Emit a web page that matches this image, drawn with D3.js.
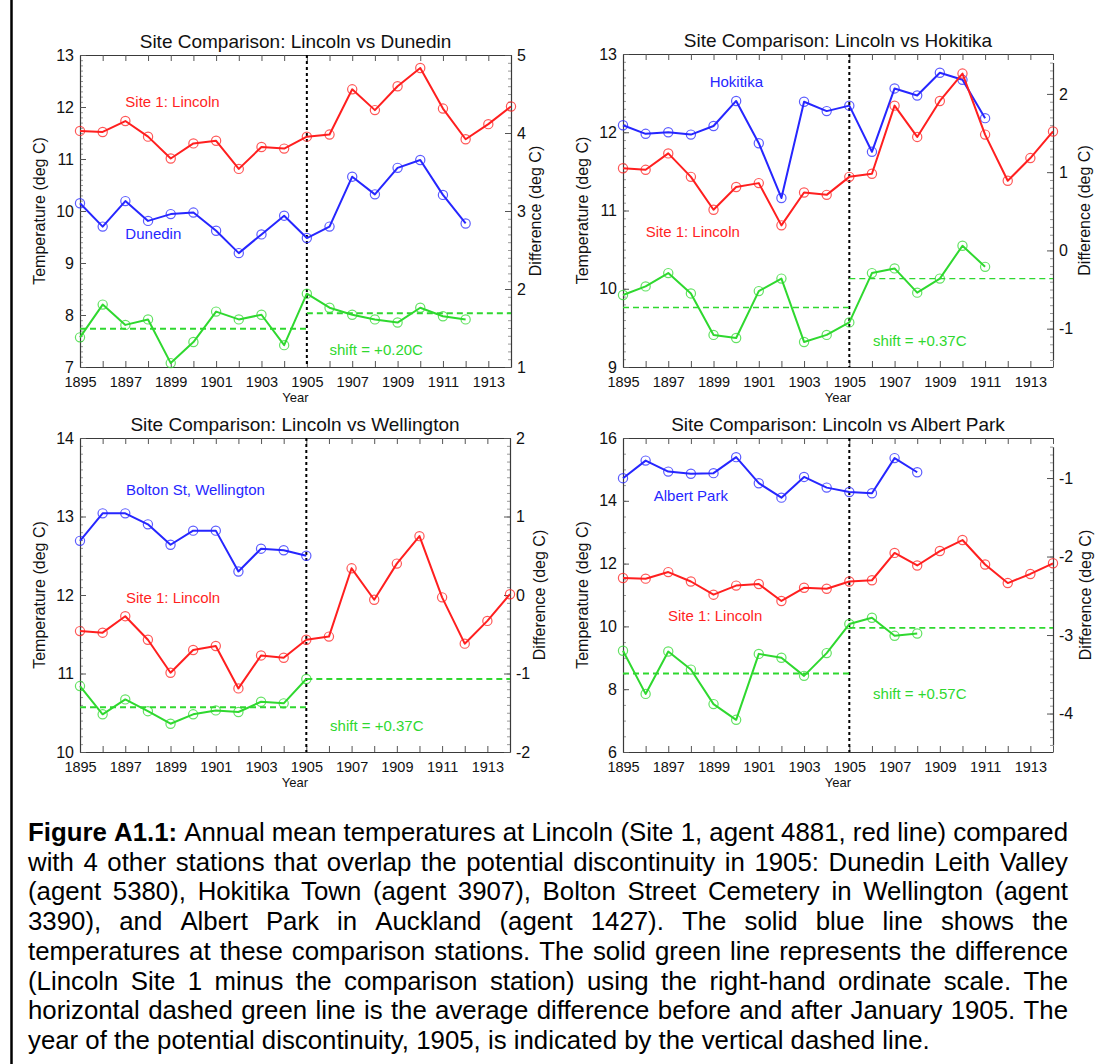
<!DOCTYPE html>
<html>
<head>
<meta charset="utf-8">
<script src="https://cdn.jsdelivr.net/npm/d3@7"></script>
<style>
  body { margin: 0; background: #fff; }
  svg { display: block; font-family: "Liberation Sans", Arial, Helvetica, sans-serif; }
</style>
</head>
<body>
<svg id="chart" width="1113" height="1064"></svg>
<script>
// ---- data ----
const years = [1895, 1896, 1897, 1898, 1899, 1900, 1901, 1902, 1903, 1904, 1905, 1906, 1907, 1908, 1909, 1910, 1911, 1912, 1913, 1914];
const yearLabels = [1895, 1897, 1899, 1901, 1903, 1905, 1907, 1909, 1911, 1913];
const breakYear = 1905;

const lincoln = [11.54, 11.52, 11.73, 11.43, 11.01, 11.30, 11.35, 10.81, 11.23, 11.20, 11.43, 11.47, 12.34, 11.94, 12.40, 12.75, 11.97, 11.38, 11.67, 12.01];

const dunedin = [10.15, 9.70, 10.19, 9.81, 9.94, 9.97, 9.62, 9.19, 9.55, 9.91, 9.48, 9.70, 10.66, 10.32, 10.83, 10.98, 10.31, 9.76];
const dunedinDiff = [1.38, 1.80, 1.54, 1.61, 1.05, 1.32, 1.71, 1.61, 1.67, 1.28, 1.94, 1.76, 1.67, 1.61, 1.57, 1.76, 1.65, 1.61];
const dunedinMeans = [1.49, 1.69];

const hokitika = [12.09, 11.98, 12.00, 11.97, 12.08, 12.40, 11.86, 11.16, 12.39, 12.27, 12.34, 11.75, 12.56, 12.47, 12.76, 12.67, 12.18];
const hokitikaDiff = [-0.57, -0.46, -0.29, -0.55, -1.08, -1.12, -0.52, -0.36, -1.17, -1.08, -0.92, -0.29, -0.23, -0.54, -0.36, 0.06, -0.21];
const hokitikaMeans = [-0.73, -0.36];

const wellington = [12.69, 13.04, 13.04, 12.90, 12.64, 12.82, 12.82, 12.30, 12.59, 12.57, 12.50];
const wellingtonDiff = [-1.16, -1.52, -1.33, -1.48, -1.64, -1.52, -1.47, -1.49, -1.36, -1.38, -1.07];
const wellingtonMeans = [-1.43, -1.07];

const albertPark = [14.72, 15.28, 14.93, 14.86, 14.88, 15.39, 14.56, 14.10, 14.76, 14.42, 14.28, 14.24, 15.36, 14.91];
const albertParkDiff = [-3.20, -3.75, -3.21, -3.44, -3.88, -4.08, -3.24, -3.29, -3.52, -3.23, -2.86, -2.78, -3.01, -2.98];
const albertParkMeans = [-3.49, -2.91];

const captionLines = [
  "Figure A1.1: Annual mean temperatures at Lincoln (Site 1, agent 4881, red line) compared",
  "with 4 other stations that overlap the potential discontinuity in 1905: Dunedin Leith Valley",
  "(agent 5380), Hokitika Town (agent 3907), Bolton Street Cemetery in Wellington (agent",
  "3390), and Albert Park in Auckland (agent 1427). The solid blue line shows the",
  "temperatures at these comparison stations. The solid green line represents the difference",
  "(Lincoln Site 1 minus the comparison station) using the right-hand ordinate scale. The",
  "horizontal dashed green line is the average difference before and after January 1905. The",
  "year of the potential discontinuity, 1905, is indicated by the vertical dashed line."
];

const RED = "#ff1f1f", BLUE = "#2626ff", GREEN = "#2fd82f";

// ---- layout of the four panels ----
const panels = [
  { title: "Site Comparison: Lincoln vs Dunedin", site: "Dunedin", temps: dunedin, diffs: dunedinDiff, means: dunedinMeans, shift: "shift = +0.20C",
    x0: 80, y0: 55, w: 431, h: 312, tempDomain: [7, 13], tempStep: 1, tempMinor: 0.1,
    diffDomain: [1, 5], diffAxis: [1, 5], rightDx: 24, meanWidth: 2,
    siteAt: [1897.0, 9.57], lincolnAt: [1897.0, 12.1], shiftAt: [1906.0, 7.34] },
  { title: "Site Comparison: Lincoln vs Hokitika", site: "Hokitika", temps: hokitika, diffs: hokitikaDiff, means: hokitikaMeans, shift: "shift = +0.37C",
    x0: 623, y0: 54, w: 430, h: 313, tempDomain: [9, 13], tempStep: 1, tempMinor: 0.1,
    diffDomain: [-1.49, 2.51], diffAxis: [-1.4, 2.4], rightDx: 31, meanWidth: 1.4,
    siteAt: [1898.83, 12.65], lincolnAt: [1896.0, 10.73], shiftAt: [1906.05, 9.33] },
  { title: "Site Comparison: Lincoln vs Wellington", site: "Bolton St, Wellington", temps: wellington, diffs: wellingtonDiff, means: wellingtonMeans, shift: "shift = +0.37C",
    x0: 80, y0: 438, w: 430, h: 314, tempDomain: [10, 14], tempStep: 1, tempMinor: 0.1,
    diffDomain: [-2, 2], diffAxis: [-2, 2], rightDx: 29, meanWidth: 2,
    siteAt: [1897.03, 13.34], lincolnAt: [1897.03, 11.96], shiftAt: [1906.05, 10.34] },
  { title: "Site Comparison: Lincoln vs Albert Park", site: "Albert Park", temps: albertPark, diffs: albertParkDiff, means: albertParkMeans, shift: "shift = +0.57C",
    x0: 623, y0: 438, w: 430, h: 314, tempDomain: [6, 16], tempStep: 2, tempMinor: 0.5,
    diffDomain: [-4.49, -0.49], diffAxis: [-4.4, -0.6], rightDx: 32, meanWidth: 1.8,
    siteAt: [1896.36, 14.17], lincolnAt: [1896.99, 10.33], shiftAt: [1906.05, 7.86] }
];

const stepTicks = (lo, hi, step) => d3.range(Math.ceil(lo / step - 1e-6), Math.floor(hi / step + 1e-6) + 1).map(k => +(k * step).toFixed(3));

function styleAxis(sel, tickColor, fontSize, showDomain){
  sel.attr("font-family", null).attr("font-size", fontSize);
  sel.select(".domain").attr("stroke", showDomain ? "#3a3a3a" : "none").attr("stroke-width", 1.2);
  sel.selectAll(".tick line").attr("stroke", tickColor).attr("stroke-width", 1);
  sel.selectAll(".tick text").attr("fill", "#111");
}

function drawPanel(svg, p){
  const g = svg.append("g");
  const x = d3.scaleLinear().domain([years[0], years[years.length - 1]]).range([p.x0, p.x0 + p.w]);
  const yL = d3.scaleLinear().domain(p.tempDomain).range([p.y0 + p.h, p.y0]);
  const yR = d3.scaleLinear().domain(p.diffDomain).range([p.y0 + p.h, p.y0]);
  const yRaxis = d3.scaleLinear().domain(p.diffAxis).range([yR(p.diffAxis[0]), yR(p.diffAxis[1])]);

  // minor ticks
  g.append("g").attr("transform", `translate(${p.x0},0)`)
    .call(d3.axisLeft(yL).tickValues(stepTicks(p.tempDomain[0], p.tempDomain[1], p.tempMinor)).tickSize(-3).tickFormat(""))
    .call(s => styleAxis(s, "#9a9a9a", 16, false));
  g.append("g").attr("transform", `translate(${p.x0 + p.w},0)`)
    .call(d3.axisRight(yRaxis).tickValues(stepTicks(p.diffAxis[0], p.diffAxis[1], 0.1)).tickSize(-3).tickFormat(""))
    .call(s => styleAxis(s, "#9a9a9a", 16, false));

  // major axes
  g.append("g").attr("transform", `translate(0,${p.y0 + p.h})`)
    .call(d3.axisBottom(x).tickValues(years).tickSize(-6).tickSizeOuter(0).tickPadding(10)
      .tickFormat(d => yearLabels.includes(d) ? d : ""))
    .call(s => styleAxis(s, "#555", 14.5, true));
  g.append("g").attr("transform", `translate(0,${p.y0})`)
    .call(d3.axisTop(x).tickValues(years).tickSize(-6).tickSizeOuter(0).tickFormat(""))
    .call(s => styleAxis(s, "#555", 14.5, true));
  g.append("g").attr("transform", `translate(${p.x0},0)`)
    .call(d3.axisLeft(yL).tickValues(stepTicks(p.tempDomain[0], p.tempDomain[1], p.tempStep)).tickSize(-6).tickSizeOuter(0).tickPadding(6)
      .tickFormat(d => String(d)))
    .call(s => styleAxis(s, "#555", 16, true));
  g.append("g").attr("transform", `translate(${p.x0 + p.w},0)`)
    .call(d3.axisRight(yRaxis).tickValues(stepTicks(p.diffAxis[0], p.diffAxis[1], 1)).tickSize(-6).tickSizeOuter(0).tickPadding(6)
      .tickFormat(d => String(d)))
    .call(s => styleAxis(s, "#555", 16, true));

  // titles
  g.append("text").attr("x", p.x0 + p.w / 2).attr("y", p.y0 - 7.5)
    .attr("text-anchor", "middle").attr("font-size", 19).attr("fill", "#111").text(p.title);
  g.append("text").attr("x", p.x0 + p.w / 2).attr("y", p.y0 + p.h + 35)
    .attr("text-anchor", "middle").attr("font-size", 13).attr("fill", "#111").text("Year");
  g.append("text").attr("transform", `translate(${p.x0 - 41},${p.y0 + p.h / 2}) rotate(-90)`)
    .attr("dy", "0.35em").attr("text-anchor", "middle").attr("font-size", 16).attr("fill", "#111").text("Temperature (deg C)");
  g.append("text").attr("transform", `translate(${p.x0 + p.w + p.rightDx},${p.y0 + p.h / 2}) rotate(-90)`)
    .attr("dy", "0.35em").attr("text-anchor", "middle").attr("font-size", 16).attr("fill", "#111").text("Difference (deg C)");

  // 1905 break line
  g.append("line").attr("x1", x(breakYear)).attr("x2", x(breakYear)).attr("y1", p.y0).attr("y2", p.y0 + p.h)
    .attr("stroke", "#000").attr("stroke-width", 2).attr("stroke-dasharray", "3,3");

  // mean difference lines before/after
  const spans = [[years[0], breakYear], [breakYear, years[years.length - 1]]];
  g.append("g").selectAll("line").data(p.means).join("line")
    .attr("x1", (d, i) => x(spans[i][0])).attr("x2", (d, i) => x(spans[i][1]))
    .attr("y1", d => yR(d)).attr("y2", d => yR(d))
    .attr("stroke", GREEN).attr("stroke-width", p.meanWidth).attr("stroke-dasharray", "6,4");

  const series = [
    { values: p.diffs, y: yR, color: GREEN },
    { values: p.temps, y: yL, color: BLUE },
    { values: lincoln, y: yL, color: RED }
  ];
  series.forEach(s => {
    const line = d3.line().x((d, i) => x(years[i])).y(d => s.y(d));
    g.append("path").datum(s.values).attr("d", line)
      .attr("fill", "none").attr("stroke", s.color).attr("stroke-width", 2).attr("stroke-linejoin", "round");
    g.append("g").selectAll("circle").data(s.values).join("circle")
      .attr("cx", (d, i) => x(years[i])).attr("cy", d => s.y(d)).attr("r", 4.6)
      .attr("fill", "none").attr("stroke", s.color).attr("stroke-width", 1.2).attr("stroke-opacity", 0.75);
  });

  const labels = [
    { at: p.lincolnAt, text: "Site 1: Lincoln", color: RED },
    { at: p.siteAt, text: p.site, color: BLUE },
    { at: p.shiftAt, text: p.shift, color: GREEN }
  ];
  g.append("g").selectAll("text").data(labels).join("text")
    .attr("x", d => x(d.at[0])).attr("y", d => yL(d.at[1])).attr("dy", "0.35em")
    .attr("font-size", 15).attr("fill", d => d.color).text(d => d.text);
}

function drawCaption(svg){
  const left = 28, right = 1068, top = 841, step = 29.7, size = 25.8;
  captionLines.forEach((line, li) => {
    const words = line.split(" ");
    const g = svg.append("g");
    const nodes = words.map((w, wi) => g.append("text")
      .attr("y", top + li * step).attr("font-size", size).attr("fill", "#000")
      .attr("font-weight", li === 0 && wi < 2 ? "bold" : null).text(w));
    const widths = nodes.map(n => n.node().getComputedTextLength());
    const total = d3.sum(widths);
    const last = li === captionLines.length - 1;
    const gap = last ? size * 0.278 : (right - left - total) / (words.length - 1);
    let cx = left;
    nodes.forEach((n, i) => { n.attr("x", cx); cx += widths[i] + gap; });
  });
}

const svg = d3.select("#chart");
svg.append("line").attr("x1", 11.5).attr("x2", 11.5).attr("y1", 0).attr("y2", 1064)
  .attr("stroke", "#000").attr("stroke-width", 2.5);
panels.forEach(p => drawPanel(svg, p));
drawCaption(svg);
</script>
</body>
</html>
